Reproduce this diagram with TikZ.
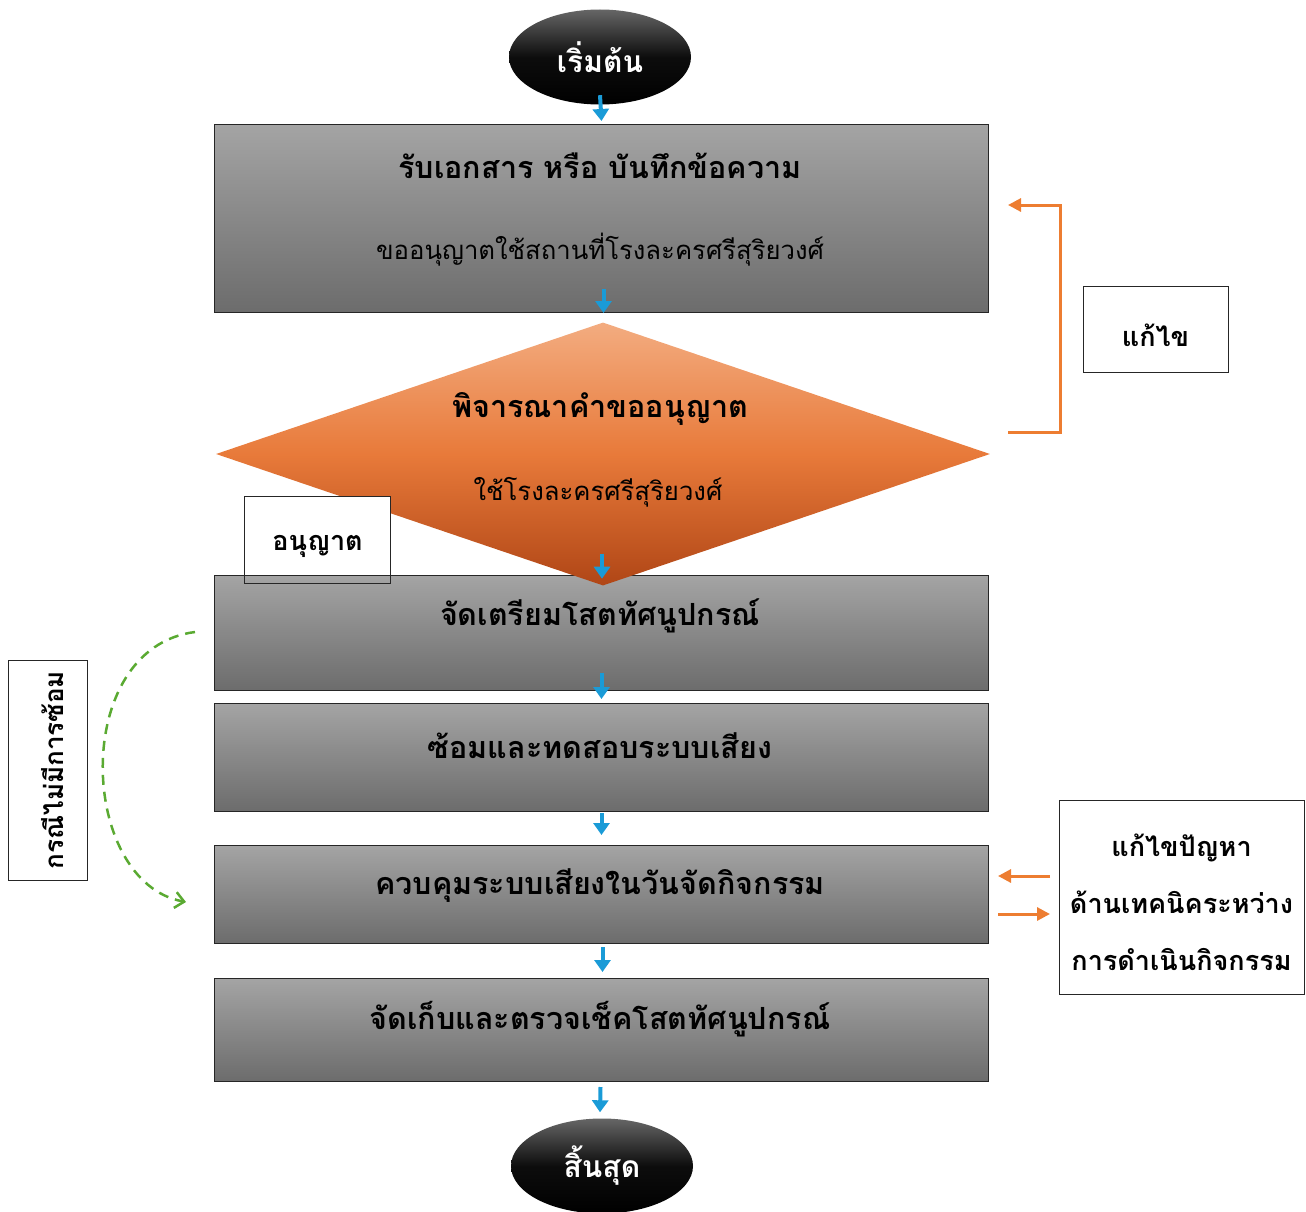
\documentclass[tikz,border=0pt]{standalone}
\usepackage{fontspec}
\setmainfont[Script=Thai]{Loma}
\usetikzlibrary{shapes.geometric,arrows.meta}
\definecolor{bluearr}{RGB}{26,155,215}
\definecolor{orng}{RGB}{237,125,49}
\definecolor{grn}{RGB}{90,170,50}
\definecolor{boxtop}{RGB}{164,164,164}
\definecolor{boxbot}{RGB}{108,108,108}
\definecolor{dtop}{RGB}{243,172,128}
\definecolor{dmid}{RGB}{232,122,58}
\definecolor{dbot}{RGB}{176,70,22}
\begin{document}
\begin{tikzpicture}[x=1pt,y=-1pt,
  procbox/.style={draw=black!85, line width=1pt, top color=boxtop, bottom color=boxbot, minimum width=774, anchor=north west, inner sep=0pt},
  term/.style={ellipse, minimum width=182, minimum height=95, top color=black!60, bottom color=black, middle color=black!95, inner sep=0pt, text=white, font=\fontsize{30}{34}\selectfont\bfseries},
  hd/.style={font=\fontsize{30.5}{34}\selectfont\bfseries, inner sep=0pt},
  sub/.style={font=\fontsize{25.7}{30}\selectfont, inner sep=0pt},
  lab/.style={draw=black!85, line width=1pt, fill=white, inner sep=0pt},
  labtxt/.style={font=\fontsize{27}{31}\selectfont\bfseries, inner sep=0pt},
  barr/.style={draw=bluearr, line width=4pt, -{Triangle[width=16pt,length=12pt]}},
  oarr/.style={draw=orng, line width=3pt, -{Triangle[width=13pt,length=13pt]}},
]
\useasboundingbox (0,0) rectangle (1306,1212);

% terminals
\node[term] (start) at (600,57) {เริ่มต้น};
\node[term] (stop) at (602,1166) {สิ้นสุด};

% process boxes
\node[procbox, minimum height=188] (b1) at (214,124) {};
\node[procbox, minimum height=115] (b3) at (214,575) {};
\node[procbox, minimum height=108] (b4) at (214,703) {};
\node[procbox, minimum height=98] (b5) at (214,845) {};
\node[procbox, minimum height=103] (b6) at (214,978) {};

% diamond (its tip lies over the next box)
\node[diamond, minimum width=774, minimum height=263, inner sep=0pt,
      top color=dtop, bottom color=dbot, middle color=dmid] (dia) at (603,454) {};

% "allow" label: white above the box, border all round
\node[inner sep=0pt, minimum width=145, minimum height=86] (allow) at (317.5,540) {};
\fill[white] (allow.north west) rectangle (allow.east |- b3.north);
\draw[draw=black!85, line width=1pt] (allow.south west) rectangle (allow.north east);
\node[labtxt] (allowt) at (317.5,546) {อนุญาต};

% texts
\node[hd] (t1) at (600,166) {รับเอกสาร หรือ บันทึกข้อความ};
\node[sub] (t1b) at (600,250) {ขออนุญาตใช้สถานที่โรงละครศรีสุริยวงศ์};
\node[hd] (t2) at (600,409) {พิจารณาคำขออนุญาต};
\node[sub] (t2b) at (598,492) {ใช้โรงละครศรีสุริยวงศ์};
\node[hd] (t3) at (600,616) {จัดเตรียมโสตทัศนูปกรณ์};
\node[hd] (t4) at (600,746) {ซ้อมและทดสอบระบบเสียง};
\node[hd] (t5) at (600,886) {ควบคุมระบบเสียงในวันจัดกิจกรรม};
\node[hd] (t6) at (600,1019) {จัดเก็บและตรวจเช็คโสตทัศนูปกรณ์};

% side labels
\node[lab, minimum width=145, minimum height=86] (fix) at (1155.5,329.5) {};
\node[labtxt] (fixt) at (1155.5,335) {แก้ไข};
\node[lab, minimum width=245, minimum height=194] (tech) at (1181.5,897) {};
\node[labtxt, align=center, font=\fontsize{27}{57}\selectfont\bfseries] (techt) at (1181.5,902)
  {แก้ไขปัญหา\\ด้านเทคนิคระหว่าง\\การดำเนินกิจกรรม};
\node[lab, minimum width=79, minimum height=220] (nor) at (47.5,770) {};
\node[labtxt, rotate=90, font=\fontsize{26}{30}\selectfont\bfseries] (nort) at (53,770) {กรณีไม่มีการซ้อม};

% blue arrows
\draw[barr] ([yshift=9.5]start.south) -- ([yshift=3]b1.north);
\draw[barr] ([xshift=2,yshift=24]b1.south) -- ([xshift=2]b1.south);
\draw[barr] ([xshift=-1,yshift=32]dia.south) -- ([xshift=-1,yshift=7]dia.south);
\draw[barr] ([yshift=18]b3.south) -- ([yshift=-8]b3.south);
\draw[barr] ([yshift=-1]b4.south) -- ([yshift=10]b5.north);
\draw[barr] ([xshift=1,yshift=-3]b5.south) -- ([xshift=1,yshift=6]b6.north);
\draw[barr] ([xshift=-1,yshift=-5]b6.south) -- ([xshift=-2,yshift=6]stop.north);

% feedback loop (orange)
\coordinate (fbA) at (1008,432);
\coordinate (fbB) at (1008,205);
\draw[oarr, line join=miter] (fbA) -- (1060,432) -- (1060,205) -- (fbB);

% orange arrows to/from tech box
\coordinate (oL) at (998,876);
\coordinate (oR) at (1050,876);
\coordinate (oL2) at (998,914);
\coordinate (oR2) at (1050,914);
\draw[oarr] (oR) -- (oL);
\draw[oarr] (oL2) -- (oR2);

% green dashed skip
\coordinate (gs) at (195,632);
\coordinate (ge) at (186,902);
\draw[grn, line width=2.5pt, dash pattern=on 10pt off 7pt, -{Straight Barb[length=9pt,width=16pt,line width=2.5pt]}]
  (gs) .. controls (70,648) and (78,882) .. (ge);
\end{tikzpicture}
\end{document}
